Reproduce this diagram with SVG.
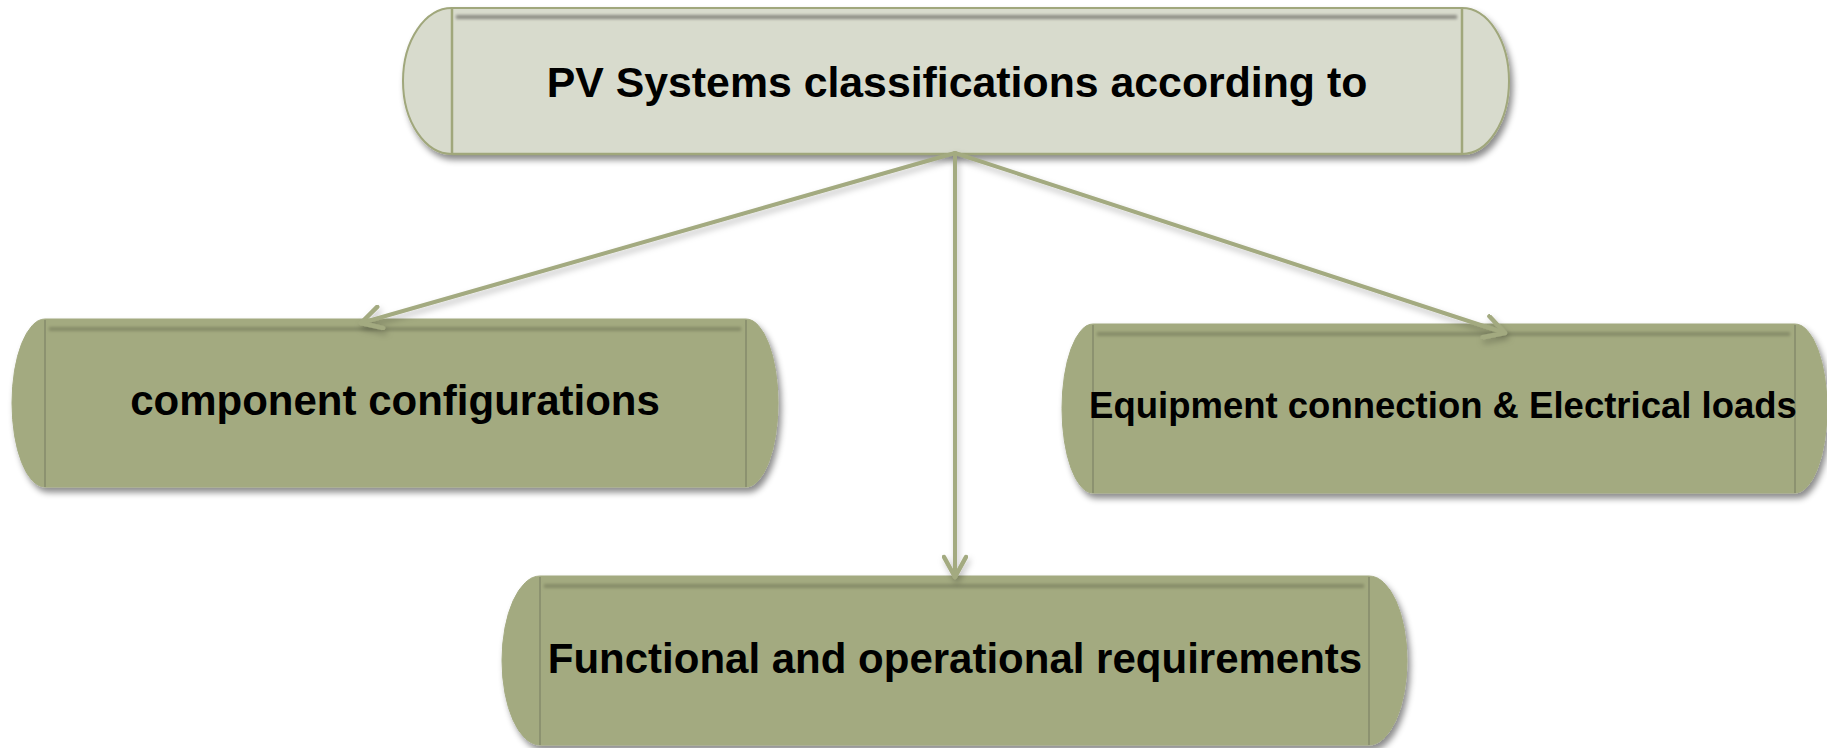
<svg xmlns="http://www.w3.org/2000/svg" width="1827" height="748" viewBox="0 0 1827 748">
  <defs>
    <filter id="shadow" x="-5%" y="-10%" width="110%" height="130%">
      <feDropShadow dx="3" dy="5" stdDeviation="3" flood-color="#000" flood-opacity="0.45"/>
    </filter>
    <filter id="lshadow" x="-5%" y="-20%" width="110%" height="140%">
      <feDropShadow dx="2" dy="4" stdDeviation="3" flood-color="#000" flood-opacity="0.25"/>
    </filter>
    <filter id="blur" x="-5%" y="-300%" width="110%" height="700%">
      <feGaussianBlur stdDeviation="1.6"/>
    </filter>
    <marker id="arrow" viewBox="0 0 28 26" refX="23" refY="13" markerWidth="28" markerHeight="26" markerUnits="userSpaceOnUse" orient="auto">
      <path d="M3,2 L23,13 L3,24" fill="none" stroke="#a3aa80" stroke-width="4.5" stroke-linecap="round" stroke-linejoin="round"/>
    </marker>
  </defs>
  <style>
    .pill-top { fill: #d8dbcd; stroke: #a0a77b; stroke-width: 2; }
    .pill { fill: #a3aa80; stroke: #a3aa80; stroke-width: 1; }
    .edge-top { stroke: #a0a77b; stroke-width: 2.5; }
    .edge { stroke: #8c9270; stroke-width: 2; }
    .inner-top { fill: #8c8c84; }
    .inner { fill: #858b68; }
    .label { font-family: "Liberation Sans", Arial, sans-serif; font-weight: bold; fill: #000; text-anchor: middle; }
    .conn { fill: none; stroke: #a3aa80; stroke-width: 4; stroke-linecap: round; }
  </style>
  <rect width="1827" height="748" fill="#ffffff"/>

  <g id="node-top">
    <path class="pill-top" filter="url(#shadow)" d="M452,8 L1462,8 A47,73 0 0 1 1462,154 L452,154 A49,73 0 0 1 452,8 Z"/>
    <rect class="inner-top" filter="url(#blur)" x="456" y="15" width="1001" height="4"/>
    <line class="edge-top" x1="452" y1="8" x2="452" y2="154"/>
    <line class="edge-top" x1="1462" y1="8" x2="1462" y2="154"/>
    <line class="edge-top" x1="452" y1="154" x2="1462" y2="154"/>
    <text class="label" x="957" y="97" font-size="42.8">PV Systems classifications according to</text>
  </g>

  <g id="node-left">
    <path class="pill" filter="url(#shadow)" d="M45,319 L746,319 A32,84 0 0 1 746,487 L45,487 A33,84 0 0 1 45,319 Z"/>
    <rect class="inner" filter="url(#blur)" x="49" y="327" width="692" height="4"/>
    <line class="edge" x1="45" y1="320" x2="45" y2="487"/>
    <line class="edge" x1="746" y1="320" x2="746" y2="487"/>
    <text class="label" x="395" y="415" font-size="42">component configurations</text>
  </g>

  <g id="node-right">
    <path class="pill" filter="url(#shadow)" d="M1093,324 L1795,324 A32,84.5 0 0 1 1795,493 L1093,493 A31,84.5 0 0 1 1093,324 Z"/>
    <rect class="inner" filter="url(#blur)" x="1097" y="332" width="693" height="4"/>
    <line class="edge" x1="1093" y1="325" x2="1093" y2="493"/>
    <line class="edge" x1="1795" y1="325" x2="1795" y2="493"/>
    <text class="label" x="1443" y="418" font-size="36.5">Equipment connection &amp; Electrical loads</text>
  </g>

  <g id="node-bottom">
    <path class="pill" filter="url(#shadow)" d="M540,576 L1369,576 A38,84.5 0 0 1 1369,745 L540,745 A38,84.5 0 0 1 540,576 Z"/>
    <rect class="inner" filter="url(#blur)" x="544" y="584" width="820" height="4"/>
    <line class="edge" x1="540" y1="577" x2="540" y2="745"/>
    <line class="edge" x1="1369" y1="577" x2="1369" y2="745"/>
    <text class="label" x="955" y="673" font-size="42">Functional and operational requirements</text>
  </g>

  <g id="connectors" filter="url(#lshadow)">
    <line class="conn" x1="955" y1="153" x2="361" y2="323" marker-end="url(#arrow)"/>
    <line class="conn" x1="955" y1="153" x2="1505" y2="333" marker-end="url(#arrow)"/>
    <line class="conn" x1="955" y1="153" x2="955" y2="577" marker-end="url(#arrow)"/>
  </g>
</svg>
